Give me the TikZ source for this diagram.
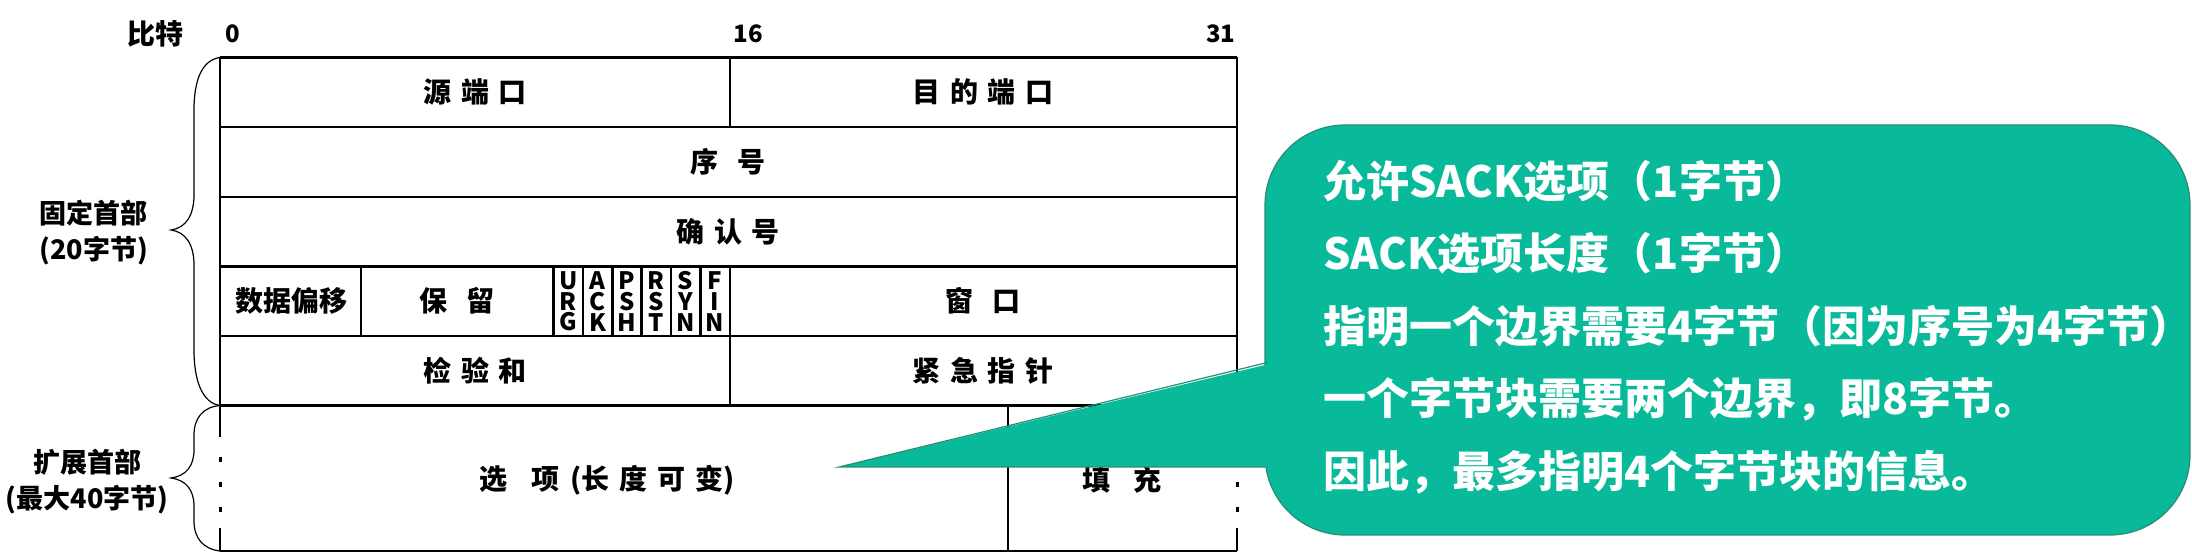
\documentclass[tikz,border=0pt]{standalone}
\usepackage{fontspec}
\setmainfont{Noto Sans CJK SC}
\definecolor{sackgreen}{RGB}{8,186,154}
\definecolor{sackedge}{RGB}{40,140,115}
\newcommand{\fgap}[1][5pt]{\hspace{#1}}
\tikzset{
  cellline/.style={line width=1.2pt},
  field/.style={inner sep=0pt, font=\bfseries\fontsize{14}{16}\selectfont},
  sidelabel/.style={inner sep=0pt, align=center, font=\bfseries\fontsize{13.5}{18}\selectfont},
  bitnum/.style={inner sep=0pt, font=\bfseries\fontsize{12}{14}\selectfont},
  flag/.style={inner sep=0pt, align=center, font=\bfseries\fontsize{12}{10.3}\selectfont},
  note/.style={fill=sackgreen, draw=sackedge, line width=0.6pt},
  notetext/.style={inner sep=0pt, align=left, text=white, font=\bfseries\fontsize{21.5}{36.25}\selectfont}
}
\begin{document}
\begin{tikzpicture}[x=0.5pt,y=-0.5pt]
\useasboundingbox (0,0) rectangle (2192,555);
% header
\node[bitnum] (bits) at (155,34) {\fontsize{14}{16}\selectfont 比特};
\node[bitnum, anchor=west] (b0) at (225,34) {0};
\node[bitnum, anchor=west] (b16) at (733,34) {16};
\node[bitnum, anchor=east] (b31) at (1236,34) {31};
% rows
\foreach \y in {57.5,127,197,266.5,336,405.5,551}
  \draw[cellline] (220,\y) -- (1237,\y);
\foreach \x in {220,1237} {
  \draw[cellline] (\x,57.5) -- (\x,437);
  \draw[cellline] (\x,528) -- (\x,551);
  \foreach \y in {459.5,484.5,509.5}
    \draw[line width=1.5pt] (\x,\y-2.5) -- (\x,\y+2.5);
}
\draw[cellline] (730,57.5) -- (730,127);
\draw[cellline] (730,266.5) -- (730,405.5);
\foreach \x in {361,553.6,583,612.3,641.6,671,700.3}
  \draw[cellline] (\x,266.5) -- (\x,336);
\draw[cellline] (1008,405.5) -- (1008,551);
% fields
\node[field] (srcport) at (475,92) {源\fgap 端\fgap 口};
\node[field] (dstport) at (983,92) {目\fgap 的\fgap 端\fgap 口};
\node[field] (seq) at (728,162) {序\fgap[6pt] 号};
\node[field] (ack) at (728,231.5) {确\fgap 认\fgap 号};
\node[field] (offset) at (291,301) {数据偏移};
\node[field] (resv) at (457,301) {保\fgap[6pt] 留};
\foreach \a/\b/\c [count=\i from 0] in {U/R/G,A/C/K,P/S/H,R/S/T,S/Y/N,F/I/N}
  \node[flag] (flag\i) at ({568.25+29.3*\i},301.5) {\a\\\b\\\c};
\node[field] (window) at (983,301) {窗\fgap[6pt] 口};
\node[field] (checksum) at (475,371) {检\fgap 验\fgap 和};
\node[field] (urgent) at (983,371) {紧\fgap 急\fgap 指\fgap 针};
\node[field] (options) at (607,480) {选\fgap[9pt] 项\fgap (长\fgap 度\fgap 可\fgap 变)};
\node[field] (padding) at (1122,480) {填\fgap[8pt] 充};
% braces
\draw[line width=0.6pt] (220,57.5) .. controls (202,60) and (194,80) .. (194,110)
      -- (194,195) .. controls (194,215) and (186,228) .. (171,230)
      .. controls (186,232) and (194,245) .. (194,265)
      -- (194,350) .. controls (194,380) and (202,403) .. (220,405.5);
\draw[line width=0.6pt] (220,405.5) .. controls (203,407) and (194,418) .. (194,435)
      -- (194,450) .. controls (194,466) and (186,476) .. (171,478)
      .. controls (186,480) and (194,490) .. (194,506)
      -- (194,521) .. controls (194,538) and (203,549) .. (220,551);
\node[sidelabel] (fixed) at (94,233) {固定首部\\(20字节)};
\node[sidelabel] (extended) at (87,482) {扩展首部\\(最大40字节)};
% callout
\node[note, rounded corners=40pt, minimum width=462.5pt, minimum height=205pt] (sack) at (1727.5,330) {};
\coordinate (tip) at (839,467);
\coordinate (tailtop) at (1265.3,363);
\coordinate (tailbot) at (1265.3,467);
\fill[sackgreen] (tip) -- ([xshift=4pt]tailtop) -- ([xshift=4pt]tailbot) -- cycle;
\draw[sackedge, line width=0.6pt] (tailtop) -- (tip) -- (tailbot);
\node[notetext, anchor=west] (sacktext) at (1323,327)
  {允许SACK选项（1字节）\\
   SACK选项长度（1字节）\\
   指明一个边界需要4字节（因为序号为4字节）\\
   一个字节块需要两个边界，即8字节。\\
   因此，最多指明4个字节块的信息。};
\end{tikzpicture}
\end{document}
